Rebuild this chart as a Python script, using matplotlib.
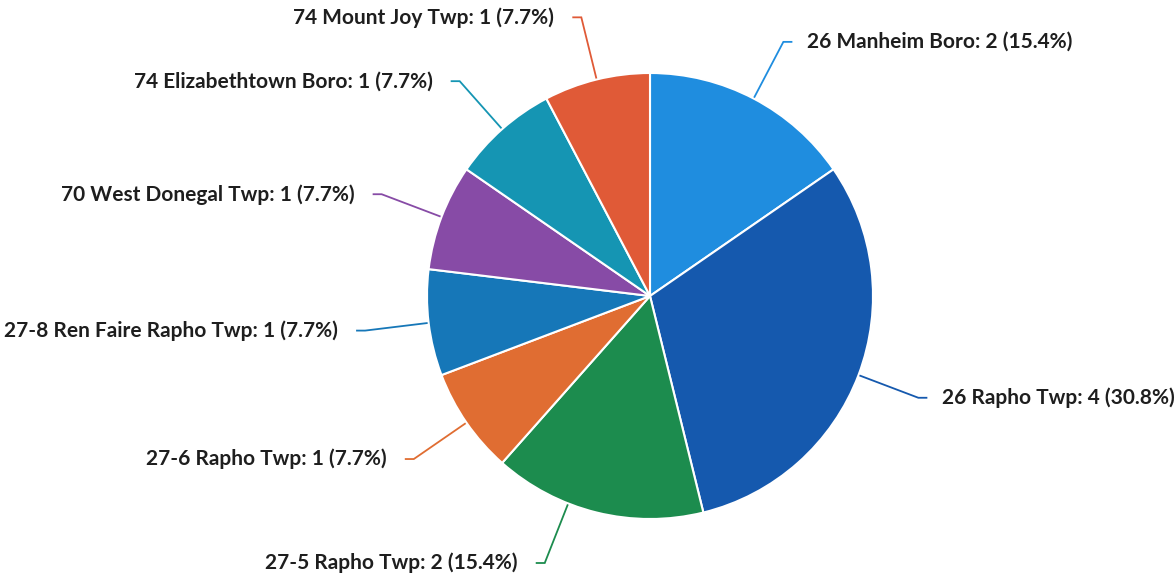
import numpy as np
import matplotlib
matplotlib.use("Agg")
import matplotlib.pyplot as plt

labels = [
    "26 Manheim Boro",
    "26 Rapho Twp",
    "27-5 Rapho Twp",
    "27-6 Rapho Twp",
    "27-8 Ren Faire Rapho Twp",
    "70 West Donegal Twp",
    "74 Elizabethtown Boro",
    "74 Mount Joy Twp",
]
counts = [2, 4, 2, 1, 1, 1, 1, 1]
colors = ["#1f8ddf", "#1559ae", "#1c8c4e", "#e06d32",
          "#1677b8", "#874ba6", "#1595b3", "#e05a37"]

W, H = 1176, 579
fig = plt.figure(figsize=(W / 100, H / 100), dpi=100)
ax = fig.add_axes([0, 0, 1, 1])

cx, cy, r = 650, 283, 223
wedges, _ = ax.pie(counts, colors=colors, startangle=90, counterclock=False,
                   center=(cx, cy), radius=r, frame=True,
                   wedgeprops=dict(edgecolor="white", linewidth=1.5))
ax.set_xlim(0, W)
ax.set_ylim(0, H)
ax.set_aspect("equal")
ax.axis("off")

total = sum(counts)
R = 287          # radius of the connector elbows
y_min = 16       # lowest allowed label centre
for w, lab, n, col in zip(wedges, labels, counts, colors):
    mid = np.deg2rad((w.theta1 + w.theta2) / 2)
    side = 1 if np.cos(mid) >= 0 else -1
    ly = max(cy + R * np.sin(mid), y_min)
    lx = cx + side * np.sqrt(max(R**2 - (ly - cy) ** 2, 0))
    ang = np.arctan2(ly - cy, lx - cx)
    sx, sy = cx + (r + 1) * np.cos(ang), cy + (r + 1) * np.sin(ang)
    ax.plot([sx, lx, lx + side * 9], [sy, ly, ly], color=col, lw=1.3,
            solid_capstyle="butt", solid_joinstyle="miter")
    pct = 100 * n / total
    ax.text(lx + side * (24 if side > 0 else 27), ly,
            f"{lab}: {n} ({pct:.1f}%)",
            ha="left" if side > 0 else "right", va="center",
            fontsize=15, fontweight="bold", family=["Lato", "DejaVu Sans"],
            color="#1e1e1e")

fig.savefig("out.png", dpi=100, facecolor="white")
